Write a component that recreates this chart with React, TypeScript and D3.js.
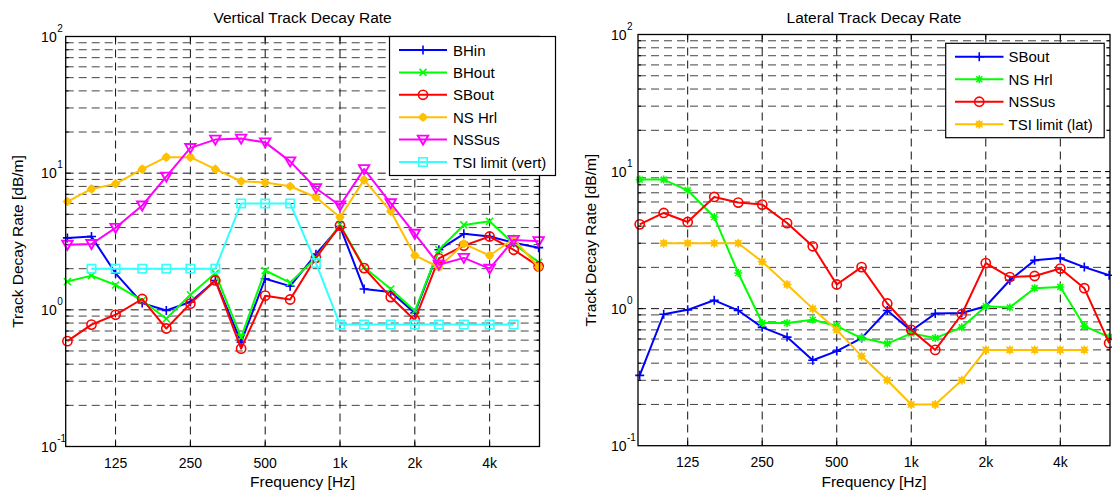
import React from 'react';
import * as d3 from 'd3';

// 1/3-octave band centre frequencies [Hz]
const FREQS = [80, 100, 125, 160, 200, 250, 315, 400, 500, 630, 800, 1000, 1250, 1600, 2000, 2500, 3150, 4000, 5000, 6300];
const X_TICKS = [125, 250, 500, 1000, 2000, 4000];
const X_TICK_LABELS = ['125', '250', '500', '1k', '2k', '4k'];
const Y_DECADES = [-1, 0, 1, 2];

// Vertical track decay rate [dB/m]
const V_BHIN = [3.36, 3.44, 1.85, 1.12, 0.99, 1.14, 1.64, 0.58, 1.69, 1.49, 2.55, 4.07, 1.42, 1.35, 0.95, 2.75, 3.6, 3.44, 3.1, 2.85];
const V_BHOUT = [1.61, 1.78, 1.52, 1.17, 0.86, 1.29, 1.85, 0.63, 1.94, 1.58, 2.4, 4.2, 2.05, 1.42, 0.98, 2.75, 4.18, 4.45, 3.04, 2.23];
const V_SBOUT = [0.59, 0.78, 0.92, 1.2, 0.73, 1.11, 1.64, 0.52, 1.27, 1.19, 2.4, 4.13, 2.02, 1.24, 0.84, 2.38, 2.95, 3.44, 2.75, 2.08];
const V_NSHRL = [6.2, 7.67, 8.35, 10.7, 13.1, 13.1, 10.7, 8.73, 8.53, 8.02, 6.66, 4.76, 8.93, 5.26, 2.5, 2.05, 3.04, 2.5, 3.31, 2.05];
const V_NSSUS = [2.99, 3.03, 3.98, 5.8, 9.44, 15.3, 17.6, 17.9, 16.8, 12.2, 7.76, 5.8, 10.7, 6.02, 3.6, 2.14, 2.4, 2.0, 3.25, 3.18];
const V_TSI = [null, 2, 2, 2, 2, 2, 2, 6, 6, 6, 2.2, 0.78, 0.78, 0.78, 0.78, 0.78, 0.78, 0.78, 0.78, null];

// Lateral track decay rate [dB/m]
const L_SBOUT = [0.326, 0.91, 0.98, 1.15, 0.97, 0.73, 0.62, 0.42, 0.49, 0.61, 0.97, 0.69, 0.92, 0.93, 1.04, 1.61, 2.25, 2.34, 2.01, 1.75];
const L_NSHRL = [8.74, 8.74, 7.3, 4.66, 1.82, 0.785, 0.785, 0.83, 0.746, 0.61, 0.556, 0.66, 0.61, 0.73, 1.04, 1.02, 1.41, 1.44, 0.746, 0.62];
const L_NSSUS = [4.12, 4.99, 4.29, 6.53, 5.94, 5.74, 4.21, 2.85, 1.5, 2.01, 1.09, 0.7, 0.5, 0.91, 2.15, 1.7, 1.73, 1.96, 1.41, 0.56];
const L_TSI = [null, 3, 3, 3, 3, 2.2, 1.5, 1.0, 0.7, 0.45, 0.3, 0.2, 0.2, 0.3, 0.5, 0.5, 0.5, 0.5, 0.5, null];

type Marker = 'plus' | 'x' | 'circle' | 'diamond' | 'tri' | 'square' | 'star' | 'fstar';
interface Series { name: string; color: string; marker: Marker; values: (number | null)[] }

const BLUE = '#0000ff';
const GREEN = '#00ff00';
const RED = '#ff0000';
const YELLOW = '#ffc000';
const MAGENTA = '#ff00ff';
const CYAN = '#33ffff';

const VERT_SERIES: Series[] = [
  { name: 'BHin', color: BLUE, marker: 'plus', values: V_BHIN },
  { name: 'BHout', color: GREEN, marker: 'x', values: V_BHOUT },
  { name: 'SBout', color: RED, marker: 'circle', values: V_SBOUT },
  { name: 'NS Hrl', color: YELLOW, marker: 'diamond', values: V_NSHRL },
  { name: 'NSSus', color: MAGENTA, marker: 'tri', values: V_NSSUS },
  { name: 'TSI limit (vert)', color: CYAN, marker: 'square', values: V_TSI },
];

const LAT_SERIES: Series[] = [
  { name: 'SBout', color: BLUE, marker: 'plus', values: L_SBOUT },
  { name: 'NS Hrl', color: GREEN, marker: 'star', values: L_NSHRL },
  { name: 'NSSus', color: RED, marker: 'circle', values: L_NSSUS },
  { name: 'TSI limit (lat)', color: YELLOW, marker: 'fstar', values: L_TSI },
];

const FONT = '"Liberation Sans", Arial, Helvetica, sans-serif';

function MarkerShape({ type, x, y, color }: { type: Marker; x: number; y: number; color: string }) {
  const sw = 1.6;
  switch (type) {
    case 'plus':
      return <path d={`M${x - 4.5},${y}H${x + 4.5}M${x},${y - 4.5}V${y + 4.5}`} stroke={color} strokeWidth={sw} fill="none" />;
    case 'x':
      return <path d={`M${x - 3.5},${y - 3.5}L${x + 3.5},${y + 3.5}M${x - 3.5},${y + 3.5}L${x + 3.5},${y - 3.5}`} stroke={color} strokeWidth={sw} fill="none" />;
    case 'star':
      return <path d={`M${x - 4},${y}H${x + 4}M${x},${y - 4}V${y + 4}M${x - 3},${y - 3}L${x + 3},${y + 3}M${x - 3},${y + 3}L${x + 3},${y - 3}`} stroke={color} strokeWidth={sw} fill="none" />;
    case 'fstar':
      return (
        <g>
          <circle cx={x} cy={y} r={3.2} fill={color} />
          <path d={`M${x - 4.5},${y}H${x + 4.5}M${x},${y - 4.5}V${y + 4.5}M${x - 3.3},${y - 3.3}L${x + 3.3},${y + 3.3}M${x - 3.3},${y + 3.3}L${x + 3.3},${y - 3.3}`} stroke={color} strokeWidth={1.4} fill="none" />
        </g>
      );
    case 'circle':
      return <circle cx={x} cy={y} r={4.6} stroke={color} strokeWidth={sw} fill="none" />;
    case 'diamond':
      return (
        <g>
          <circle cx={x} cy={y} r={3.6} fill={color} />
          <path d={`M${x},${y - 4.8}L${x + 4.8},${y}L${x},${y + 4.8}L${x - 4.8},${y}Z`} fill={color} />
        </g>
      );
    case 'tri':
      return <path d={`M${x - 5.2},${y - 4}L${x + 5.2},${y - 4}L${x},${y + 5}Z`} stroke={color} strokeWidth={1.9} fill="none" strokeLinejoin="miter" />;
    case 'square':
      return <rect x={x - 4.2} y={y - 4.2} width={8.4} height={8.4} stroke={color} strokeWidth={sw} fill="none" />;
  }
  return null;
}

interface LegendCfg { x: number; y: number; w: number; h: number; row0: number; step: number; lx0: number; lx1: number; tx: number }

interface PanelProps {
  left: number; right: number; top: number; bottom: number;
  title: string; series: Series[]; legend: LegendCfg; yLabelX: number; tickGap: number;
}

function Panel({ left, right, top, bottom, title, series, legend, yLabelX, tickGap }: PanelProps) {
  const x = d3.scaleLog().domain([1000 * Math.pow(2, -11 / 3), 1000 * Math.pow(2, 8 / 3)]).range([left, right]);
  const y = d3.scaleLog().domain([0.1, 100]).range([bottom, top]);

  const hGrid: { v: number; major: boolean }[] = [];
  for (let d = -1; d <= 1; d++) {
    for (let k = 1; k <= 9; k++) {
      const v = k * Math.pow(10, d);
      if (v > 0.1) hGrid.push({ v, major: k === 1 });
    }
  }

  const line = d3.line<[number, number | null]>()
    .defined((d) => d[1] !== null)
    .x((d) => x(d[0]))
    .y((d) => y(d[1] as number));

  const cx = (left + right) / 2;
  const cy = (top + bottom) / 2;
  const dash = '8,5';

  return (
    <g>
      <rect x={left} y={top} width={right - left} height={bottom - top} fill="#fff" />
      {/* horizontal grid */}
      {hGrid.map((g, i) => (
        <line key={'h' + i} x1={left} x2={right} y1={y(g.v)} y2={y(g.v)}
          stroke={g.major ? '#111' : '#444'} strokeWidth={1} strokeDasharray={dash} />
      ))}
      {/* vertical grid */}
      {X_TICKS.map((t, i) => (
        <line key={'v' + i} x1={x(t)} x2={x(t)} y1={top} y2={bottom}
          stroke="#111" strokeWidth={1} strokeDasharray={dash} />
      ))}
      {/* ticks */}
      {hGrid.map((g, i) => {
        const len = g.major ? 5 : 3;
        return (
          <g key={'yt' + i}>
            <line x1={left} x2={left + len} y1={y(g.v)} y2={y(g.v)} stroke="#000" strokeWidth={1} />
            <line x1={right} x2={right - len} y1={y(g.v)} y2={y(g.v)} stroke="#000" strokeWidth={1} />
          </g>
        );
      })}
      {X_TICKS.map((t, i) => (
        <g key={'xt' + i}>
          <line x1={x(t)} x2={x(t)} y1={bottom} y2={bottom - 5} stroke="#000" strokeWidth={1} />
          <line x1={x(t)} x2={x(t)} y1={top} y2={top + 5} stroke="#000" strokeWidth={1} />
        </g>
      ))}
      {/* series */}
      {series.map((s) => {
        const pts: [number, number | null][] = FREQS.map((f, i) => [f, s.values[i]]);
        return (
          <g key={s.name}>
            <path d={line(pts) || ''} stroke={s.color} strokeWidth={2} fill="none" strokeLinejoin="round" />
            {pts.filter((p) => p[1] !== null).map((p, i) => (
              <MarkerShape key={i} type={s.marker} x={x(p[0])} y={y(p[1] as number)} color={s.color} />
            ))}
          </g>
        );
      })}
      {/* box */}
      <rect x={left} y={top} width={right - left} height={bottom - top} fill="none" stroke="#000" strokeWidth={1.3} />
      {/* x tick labels */}
      {X_TICKS.map((t, i) => (
        <text key={'xl' + i} x={x(t)} y={bottom + 21} textAnchor="middle" fontSize={14} fontFamily={FONT} fill="#000">{X_TICK_LABELS[i]}</text>
      ))}
      {/* y tick labels */}
      {Y_DECADES.map((d) => (
        <g key={'yl' + d}>
          <text x={left - tickGap} y={y(Math.pow(10, d)) + 5} textAnchor="end" fontSize={14} fontFamily={FONT} fill="#000">10</text>
          <text x={left - tickGap + 0.5} y={y(Math.pow(10, d)) - 5} textAnchor="start" fontSize={10} fontFamily={FONT} fill="#000">{d < 0 ? '-' + Math.abs(d) : String(d)}</text>
        </g>
      ))}
      {/* title and labels */}
      <text x={cx} y={23} textAnchor="middle" fontSize={15.5} fontFamily={FONT} fill="#000">{title}</text>
      <text x={cx} y={487} textAnchor="middle" fontSize={15.5} fontFamily={FONT} fill="#000">Frequency [Hz]</text>
      <text x={yLabelX} y={cy} textAnchor="middle" fontSize={15.5} fontFamily={FONT} fill="#000"
        transform={`rotate(-90, ${yLabelX}, ${cy})`}>Track Decay Rate [dB/m]</text>
      {/* legend */}
      <rect x={legend.x} y={legend.y} width={legend.w} height={legend.h} fill="#fff" stroke="#000" strokeWidth={1.2} />
      {series.map((s, i) => {
        const ry = legend.row0 + i * legend.step;
        return (
          <g key={'lg' + i}>
            <line x1={legend.lx0} x2={legend.lx1} y1={ry} y2={ry} stroke={s.color} strokeWidth={2} />
            <MarkerShape type={s.marker} x={(legend.lx0 + legend.lx1) / 2} y={ry} color={s.color} />
            <text x={legend.tx} y={ry + 5.5} fontSize={15} fontFamily={FONT} fill="#000">{s.name}</text>
          </g>
        );
      })}
    </g>
  );
}

export default function App() {
  return (
    <svg width={1112} height={490} viewBox="0 0 1112 490"
      style={{ position: 'absolute', left: 0, top: 0, background: '#fff' }}>
      <rect x={0} y={0} width={1112} height={490} fill="#fff" />
      <Panel left={65.7} right={539.5} top={36.5} bottom={446.5}
        title="Vertical Track Decay Rate" series={VERT_SERIES}
        legend={{ x: 389.5, y: 36.5, w: 166, h: 139, row0: 50, step: 22.4, lx0: 399, lx1: 447, tx: 453 }}
        yLabelX={23} tickGap={9} />
      <Panel left={638} right={1110} top={34.5} bottom={445.7}
        title="Lateral Track Decay Rate" series={LAT_SERIES}
        legend={{ x: 945.7, y: 43.3, w: 158.5, h: 94.4, row0: 56.7, step: 22.5, lx0: 955, lx1: 1003.5, tx: 1008.5 }}
        yLabelX={596} tickGap={11.5} />
    </svg>
  );
}
